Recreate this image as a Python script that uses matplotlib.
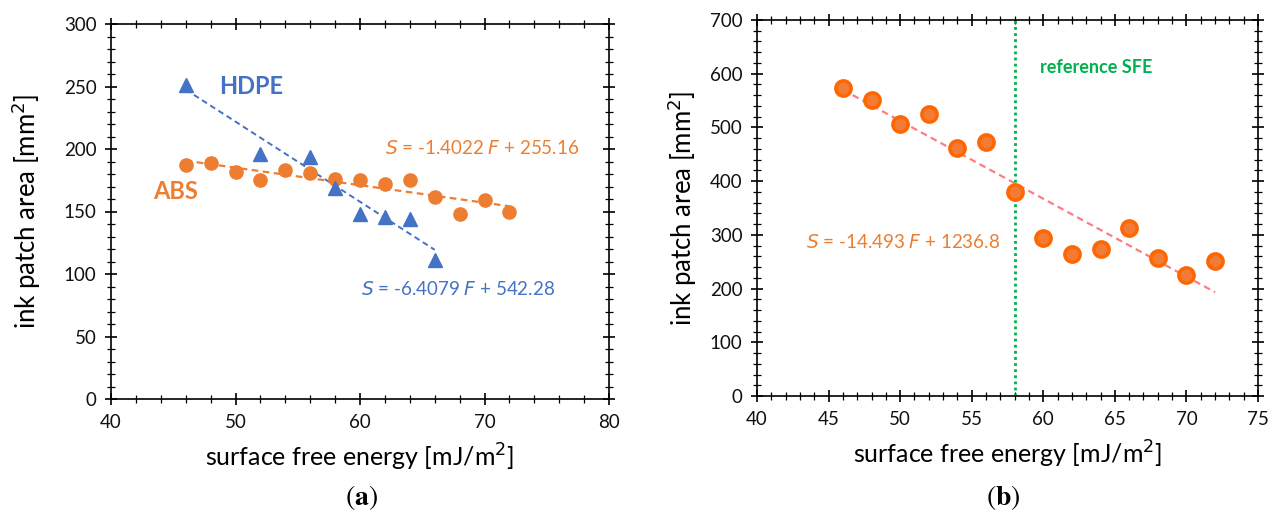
import numpy as np
import matplotlib.pyplot as plt
from matplotlib.ticker import MultipleLocator

plt.rcParams['font.family'] = ['Lato', 'DejaVu Sans']

# (a) ABS and HDPE
abs_x = [46, 48, 50, 52, 54, 56, 58, 60, 62, 64, 66, 68, 70, 72]
abs_y = [187, 189, 182, 175, 183, 181, 176, 175, 172, 175, 162, 148, 159, 150]
hdpe_x = [46, 52, 56, 58, 60, 62, 64, 66]
hdpe_y = [251, 196, 194, 169, 148, 146, 144, 111]
abs_fit = (-1.4022, 255.16)
hdpe_fit = (-6.4079, 542.28)

# (b) reference SFE
b_x = [46, 48, 50, 52, 54, 56, 58, 60, 62, 64, 66, 68, 70, 72]
b_y = [574, 551, 507, 525, 462, 472, 380, 294, 264, 274, 312, 257, 226, 251]
b_fit = (-14.493, 1236.8)
ref_sfe = 58

blue = '#4472C4'
orange = '#ED7D31'
green = '#00B050'

fig = plt.figure(figsize=(12.87, 5.16), dpi=100)
ax1 = fig.add_axes([111/1287, 1-399/516, 498/1287, 375/516])
ax2 = fig.add_axes([757/1287, 1-396/516, 501/1287, 376/516])


def style(ax, ypad):
    for s in ax.spines.values():
        s.set_linewidth(1.2)
    ax.tick_params(which='both', direction='inout', top=True, right=True,
                   labelsize=13.5, colors='black', pad=6)
    ax.tick_params(which='major', length=9, width=1.2)
    ax.tick_params(which='minor', length=6, width=0.9)
    for lab in ax.get_xticklabels() + ax.get_yticklabels():
        lab.set_color('#111111')
    ax.set_xlabel('surface free energy [mJ/m$^2$]', fontsize=18, labelpad=8)
    ax.set_ylabel('ink patch area [mm$^2$]', fontsize=18.5, labelpad=ypad)


# left panel
fx = np.array([min(hdpe_x), max(hdpe_x)])
ax1.plot(fx, hdpe_fit[0]*fx + hdpe_fit[1], '--', color=blue, lw=1.4, dashes=(3, 2))
fx = np.array([min(abs_x), max(abs_x)])
ax1.plot(fx, abs_fit[0]*fx + abs_fit[1], '--', color=orange, lw=1.6, dashes=(3, 2))
ax1.plot(abs_x, abs_y, 'o', color=orange, ms=9.5, mec=orange)
ax1.plot(hdpe_x, hdpe_y, '^', color=blue, ms=10.5, mec=blue)
ax1.set_xlim(40, 80)
ax1.set_ylim(0, 300)
ax1.xaxis.set_major_locator(MultipleLocator(10))
ax1.xaxis.set_minor_locator(MultipleLocator(2))
ax1.yaxis.set_major_locator(MultipleLocator(50))
ax1.yaxis.set_minor_locator(MultipleLocator(10))
style(ax1, 15)
ax1.text(48.7, 250, 'HDPE', color=blue, fontsize=17, fontweight='bold', va='center')
ax1.text(43.4, 166, 'ABS', color=orange, fontsize=17, fontweight='bold', va='center')
ax1.text(62, 201, '$S$ = -1.4022 $F$ + 255.16', color=orange, fontsize=13.5, va='center')
ax1.text(60.1, 88, '$S$ = -6.4079 $F$ + 542.28', color=blue, fontsize=13.5, va='center')

# right panel
fx = np.array([min(b_x), max(b_x)])
ax2.plot(fx, b_fit[0]*fx + b_fit[1], '--', color='#FF7C80', lw=1.6, dashes=(3, 2))
ax2.axvline(ref_sfe, color=green, lw=2, ls=(0, (1, 1.2)))
ax2.plot(b_x, b_y, 'o', color='#F27B35', ms=11, mec='#FF6600', mew=2.5)
ax2.set_xlim(40, 75)
ax2.set_ylim(0, 700)
ax2.xaxis.set_major_locator(MultipleLocator(5))
ax2.xaxis.set_minor_locator(MultipleLocator(1))
ax2.yaxis.set_major_locator(MultipleLocator(100))
ax2.yaxis.set_minor_locator(MultipleLocator(20))
style(ax2, 8)
ax2.text(59.8, 612, 'reference SFE', color=green, fontsize=13, fontweight='bold', va='center')
ax2.text(43.4, 287, '$S$ = -14.493 $F$ + 1236.8', color=orange, fontsize=13.5, va='center')

fig.text(361/1287, 1-497/516, r'$(\mathbf{a})$', fontsize=20, math_fontfamily='stix',
         ha='center', va='center')
fig.text(1003/1287, 1-497/516, r'$(\mathbf{b})$', fontsize=20, math_fontfamily='stix',
         ha='center', va='center')

fig.savefig('out.png', dpi=100)
